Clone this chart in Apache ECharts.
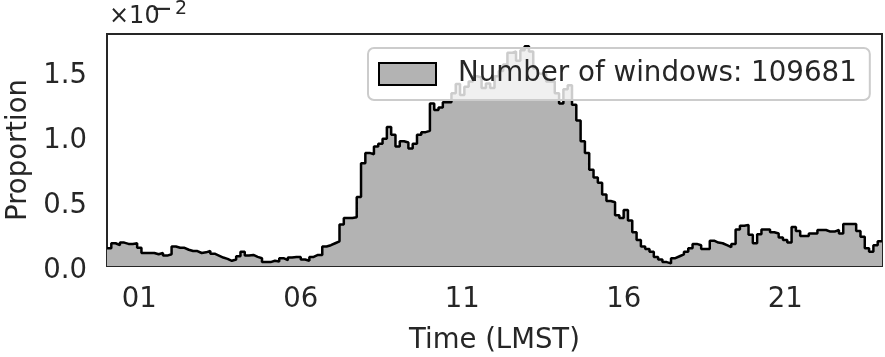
<!DOCTYPE html>
<html>
<head>
<meta charset="utf-8">
<script src="https://cdn.jsdelivr.net/npm/echarts@6/dist/echarts.min.js"></script>
<style>
  html, body { margin: 0; padding: 0; background: #fff; }
  #chart { width: 885px; height: 357px; }
</style>
</head>
<body>
<div id="chart"></div>
<script>
// proportion of windows per 8-minute LMST bin, in units of 1e-2 (axis shows x10^-2)
const proportionE2 = [
  0.136, 0.175, 0.16, 0.18, 0.17, 0.17, 0.175, 0.14, 0.10, 0.10,
  0.10, 0.09, 0.10, 0.08, 0.09, 0.15, 0.14, 0.14, 0.125, 0.115,
  0.115, 0.10, 0.105, 0.115, 0.095, 0.08, 0.065, 0.055, 0.04, 0.05,
  0.075, 0.11, 0.08, 0.085, 0.07, 0.06, 0.03, 0.03, 0.04, 0.035,
  0.06, 0.045, 0.065, 0.07, 0.07, 0.05, 0.04, 0.07, 0.085, 0.085,
  0.15, 0.16, 0.175, 0.19, 0.32, 0.37, 0.37, 0.375, 0.53, 0.79,
  0.87, 0.86, 0.92, 0.94, 0.98, 1.07, 1.01, 0.92, 0.96, 0.95,
  0.905, 0.94, 1.01, 1.03, 1.04, 1.25, 1.2, 1.22, 1.26, 1.26,
  1.33, 1.40, 1.315, 1.38, 1.42, 1.46, 1.45, 1.37, 1.405, 1.37,
  1.46, 1.50, 1.55, 1.64, 1.65, 1.58, 1.66, 1.69, 1.65, 1.52,
  1.48, 1.48, 1.42, 1.42, 1.33, 1.25, 1.36, 1.39, 1.24, 1.12,
  0.96, 0.87, 0.74, 0.68, 0.64, 0.55, 0.50, 0.49, 0.39, 0.37,
  0.43, 0.35, 0.26, 0.20, 0.15, 0.13, 0.11, 0.07, 0.05, 0.03,
  0.02, 0.06, 0.075, 0.09, 0.11, 0.136, 0.17, 0.16, 0.13, 0.13,
  0.195, 0.18, 0.175, 0.16, 0.145, 0.17, 0.28, 0.31, 0.315, 0.24,
  0.175, 0.245, 0.28, 0.28, 0.26, 0.25, 0.22, 0.20, 0.18, 0.30,
  0.27, 0.23, 0.23, 0.25, 0.25, 0.277, 0.277, 0.265, 0.265, 0.277,
  0.25, 0.323, 0.323, 0.323, 0.27, 0.225, 0.136, 0.11, 0.16, 0.19
]
const tickHours = [1, 6, 11, 16, 21]
const tickLabels = ['01', '06', '11', '16', '21']
const yTicks = [0, 0.5, 1.0, 1.5]
const legendLabel = 'Number of windows: 109681'

const textColor = '#262626'
const fontFamily = 'DejaVu Sans'
const dayHours = 24
const binHours = dayHours / proportionE2.length

// bin left edges, plus closing point so the last step reaches the right edge
const steps = proportionE2.map((v, i) => [i * binHours, v])
steps.push([dayHours, proportionE2[proportionE2.length - 1]])

const myChart = echarts.init(document.getElementById('chart'), null, { renderer: 'canvas' })

let option = {
  animation: false,
  textStyle: { fontFamily: fontFamily, color: textColor },
  grid: {
    left: 107,
    right: 3,
    top: 34,
    bottom: 91,
    outerBoundsMode: 'none',
    containLabel: false,
    show: true,
    borderColor: textColor,
    borderWidth: 2,
    backgroundColor: 'transparent'
  },
  legend: {
    left: 368,
    top: 48,
    padding: [9, 13, 9, 10],
    backgroundColor: 'rgba(255,255,255,0.8)',
    borderColor: '#cccccc',
    borderWidth: 2,
    borderRadius: 6,
    itemWidth: 57,
    itemHeight: 22,
    data: [{
      name: legendLabel,
      icon: 'rect',
      itemStyle: { color: '#b3b3b3', borderColor: '#000', borderWidth: 2 }
    }],
    textStyle: {
      fontFamily: fontFamily,
      fontSize: 27.7,
      color: textColor,
      lineHeight: 34,
      padding: [0, 0, 0, 17]
    }
  },
  xAxis: {
    type: 'value',
    min: 0,
    max: dayHours,
    name: 'Time (LMST)',
    nameLocation: 'middle',
    nameGap: 61,
    nameTextStyle: { fontFamily: fontFamily, fontSize: 27.5, color: textColor },
    axisLine: { show: false },
    axisTick: { show: false },
    splitLine: { show: false },
    axisLabel: {
      customValues: tickHours,
      formatter: v => tickLabels[tickHours.indexOf(v)],
      fontFamily: fontFamily,
      fontSize: 27.5,
      color: textColor,
      margin: 20
    }
  },
  yAxis: {
    type: 'value',
    min: 0,
    max: 1.785,
    name: 'Proportion',
    nameLocation: 'middle',
    nameGap: 71,
    nameTextStyle: { fontFamily: fontFamily, fontSize: 27.5, color: textColor },
    axisLine: { show: false },
    axisTick: { show: false },
    splitLine: { show: false },
    axisLabel: {
      customValues: yTicks,
      formatter: v => v.toFixed(1),
      fontFamily: fontFamily,
      fontSize: 27.5,
      color: textColor,
      margin: 20,
      verticalAlign: 'top',
      lineHeight: 9
    }
  },
  graphic: [
    {
      type: 'text',
      left: 109,
      top: 5,
      style: { text: '\u00d710', font: '24px "DejaVu Sans"', fill: textColor }
    },
    {
      type: 'text',
      left: 151,
      top: -3,
      style: { text: '\u2212', font: '26px "DejaVu Sans"', fill: textColor }
    },
    {
      type: 'text',
      left: 175,
      top: 0,
      style: { text: '2', font: '19px "DejaVu Sans"', fill: textColor }
    }
  ],
  series: [
    {
      name: legendLabel,
      type: 'line',
      step: 'end',
      symbol: 'none',
      data: steps,
      lineStyle: { color: '#000', width: 2.5 },
      itemStyle: { color: '#b3b3b3' },
      areaStyle: { color: '#b3b3b3', opacity: 1 }
    }
  ]
}

myChart.setOption(option, true)
</script>
</body>
</html>
